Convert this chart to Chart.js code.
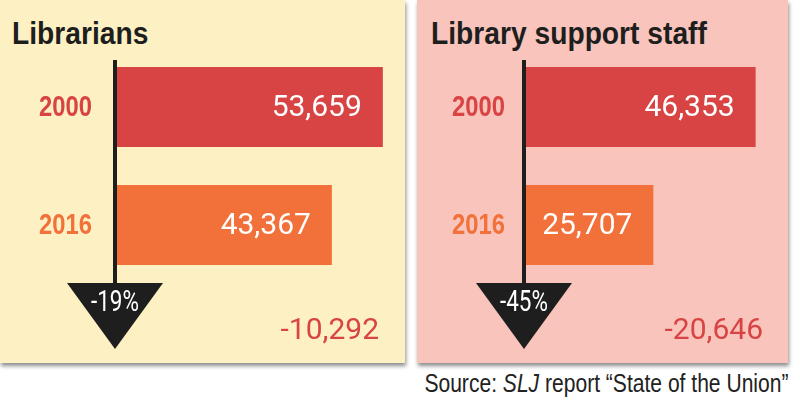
<!DOCTYPE html>
<html>
<head>
<meta charset="utf-8">
<script src="https://cdn.jsdelivr.net/npm/chart.js@4.4.0/dist/chart.umd.min.js"></script>
<style>
  html, body { margin: 0; padding: 0; background: #fff; }
  #wrap { position: relative; width: 800px; height: 404px; overflow: hidden; }
  .panel { position: absolute; top: 0; height: 363px; box-shadow: 1px 3px 4px rgba(0,0,0,0.45); }
  #p1 { left: 0; width: 405px; background: #fdf1c3; }
  #p2 { left: 417px; width: 371px; background: #f8c4bb; }
  .title { position: absolute; top: 18px; font-family: "Liberation Sans", Arial, sans-serif;
           font-weight: bold; font-size: 31px; line-height: 31px; color: #1e1e1e; white-space: nowrap;
           transform: scaleX(0.91); transform-origin: left top; }
  canvas { position: absolute; top: 0; }
  #source { position: absolute; right: 12px; top: 368px; font-family: "Liberation Sans", Arial, sans-serif;
            font-size: 26px; line-height: 30px; color: #222; white-space: nowrap;
            transform: scaleX(0.81); transform-origin: right top; }
</style>
</head>
<body>
<div id="wrap">
  <div class="panel" id="p1"></div>
  <div class="panel" id="p2"></div>
  <div class="title" id="t1" style="left:12px"></div>
  <div class="title" id="t2" style="left:431px"></div>
  <canvas id="c1" width="405" height="363" style="left:0;width:405px;height:363px"></canvas>
  <canvas id="c2" width="383" height="363" style="left:417px;width:383px;height:363px"></canvas>
  <div id="source">Source: <i>SLJ</i> report “State of the Union”</div>
</div>
<script>
const years = ['2000', '2016'];
const librarians = [53659, 43367];
const supportStaff = [46353, 25707];
const panelTitles = ['Librarians', 'Library support staff'];

const yearColors = ['#d84444', '#f2703a'];

document.getElementById('t1').textContent = panelTitles[0];
document.getElementById('t2').textContent = panelTitles[1];

// Year labels (condensed), value labels, axis arrow, percent change and difference
const decor = {
    id: 'decor',
    afterDatasetsDraw(chart, args, opts) {
        const ctx = chart.ctx;
        const values = chart.data.datasets[0].data;
        const bars = chart.getDatasetMeta(0).data;
        const yScale = chart.scales.y;
        const x0 = chart.scales.x.getPixelForValue(0) - 2;
        ctx.save();

        // year labels, squeezed to look like a condensed face
        ctx.font = 'bold 29px "Liberation Sans", Arial';
        ctx.textAlign = 'right';
        ctx.textBaseline = 'middle';
        chart.data.labels.forEach((lab, i) => {
            const y = yScale.getPixelForTick(i);
            ctx.save();
            ctx.translate(chart.chartArea.left - opts.tickPad, y + 1);
            ctx.scale(0.82, 1);
            ctx.fillStyle = yearColors[i];
            ctx.fillText(lab, 0, 0);
            ctx.restore();
        });

        // values inside bars
        ctx.fillStyle = '#fff';
        ctx.font = '30px Roboto';
        bars.forEach((bar, i) => {
            ctx.fillText(values[i].toLocaleString('en-US'), bar.x - 21, bar.y + 1);
        });

        // vertical axis with arrow head
        const last = bars[bars.length - 1];
        const triTop = last.y + last.height / 2 + 18;
        ctx.fillStyle = '#1e1e1e';
        ctx.fillRect(x0 - 2, 60, 4, triTop - 60);
        ctx.beginPath();
        ctx.moveTo(x0 - 48, triTop);
        ctx.lineTo(x0 + 48, triTop);
        ctx.lineTo(x0, triTop + 66);
        ctx.closePath();
        ctx.fill();

        const diff = values[values.length - 1] - values[0];
        const pct = Math.round(diff / values[0] * 100);
        ctx.save();
        ctx.translate(x0, triTop + 21);
        ctx.scale(0.9, 1.15);
        ctx.fillStyle = '#fff';
        ctx.font = '25px Roboto';
        ctx.textAlign = 'center';
        ctx.fillText(pct + '%', 0, 0);
        ctx.restore();

        ctx.fillStyle = yearColors[0];
        ctx.font = '30px Roboto';
        ctx.textAlign = 'right';
        ctx.fillText('-' + Math.abs(diff).toLocaleString('en-US'), chart.chartArea.left + opts.diffRight, triTop + 48);
        ctx.restore();
    }
};

function makeChart(id, values, axisWidth, padRight, tickPad, diffRight) {
    return new Chart(document.getElementById(id), {
        type: 'bar',
        data: {
            labels: years,
            datasets: [{
                data: values,
                backgroundColor: yearColors,
                borderWidth: 0,
                barPercentage: 0.678,
                categoryPercentage: 1
            }]
        },
        options: {
            indexAxis: 'y',
            responsive: false,
            animation: false,
            layout: { padding: { top: 48, bottom: 79, left: 0, right: padRight } },
            plugins: {
                legend: { display: false },
                tooltip: { enabled: false },
                decor: { diffRight: diffRight, tickPad: tickPad }
            },
            scales: {
                x: { display: false, min: 0, max: 54500 },
                y: {
                    grid: { display: false, drawTicks: false },
                    border: { display: false },
                    ticks: { display: false },
                    afterFit: (scale) => { scale.width = axisWidth; }
                }
            }
        },
        plugins: [decor]
    });
}

makeChart('c1', librarians, 117, 18, 25, 262);
makeChart('c2', supportStaff, 109, 4, 21, 237);
</script>
</body>
</html>
